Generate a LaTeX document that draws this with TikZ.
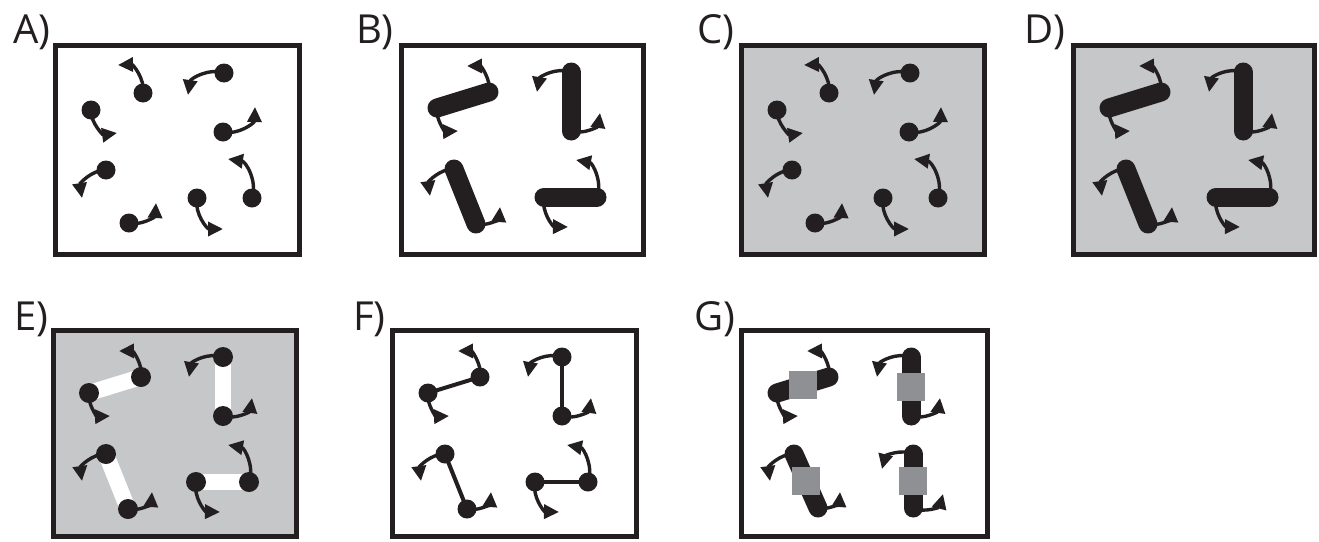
\documentclass[tikz,border=0pt]{standalone}
\usepackage{fontspec}
\setmainfont{Open Sans}
\usetikzlibrary{arrows.meta, calc}

\definecolor{ink}{RGB}{35,31,32}
\definecolor{panelgray}{RGB}{197,199,201}
\definecolor{padgray}{RGB}{143,144,147}

% dot / tip of its arrow (pixels from the panel's top-left corner)
\newcommand{\spinlist}{88/48/63/20, 169/28/133/50, 36/65/62/88, 168/87/200/62,
  51/125/27/153, 197/153/173/114, 74/178/101/158, 142/153/168/184}
% rotor ends p, q and the tips of their arrows
\newcommand{\rotorlist}{88/47/66/21/36/63/57/86, 170/27/136/47/170/86/199/68,
  53/124/29/151/75/179/99/162, 196/152/175/115/143/152/167/182}
\newcommand{\padlist}{88/47/66/21/36/63/57/86, 170/27/136/47/170/86/199/68,
  53/124/29/151/77/178/99/162, 172/124/141/139/172/178/202/164}

\begin{document}
\begin{tikzpicture}[x=1pt, y=1pt, >=Stealth,
    every node/.style={font=\fontsize{40}{40}\selectfont, text=ink, inner sep=0pt},
    frame/.style={draw=ink, line width=5pt},
    spin/.style={draw=ink, line width=3.4pt, -{Triangle[length=15pt,width=14pt]}},
    rod/.style={draw=ink, line width=19pt, line cap=round},
    link/.style={draw=ink, line width=4pt}]
  \useasboundingbox (0,0) rectangle (1319,-541);

  % A) free spins
  \node[anchor=base east] (labA) at (51,-43) {A)};
  \draw[frame] (55,-45) rectangle (299,-254);
  \begin{scope}[shift={(55,-45)}]
    \foreach \sx/\sy/\tx/\ty in \spinlist{
      \draw[spin] (\sx,-\sy) to[bend right=50] (\tx,-\ty);
      \fill[ink] (\sx,-\sy) circle (9.5);
    }
  \end{scope}

  % B) rods
  \node[anchor=base east] (labB) at (394,-43) {B)};
  \draw[frame] (401,-45) rectangle (643,-254);
  \begin{scope}[shift={(401,-45)}]
    \foreach \px/\py/\ax/\ay/\qx/\qy/\bx/\by in \rotorlist{
      \draw[spin] (\px,-\py) to[bend right=50] (\ax,-\ay);
      \draw[spin] (\qx,-\qy) to[bend right=50] (\bx,-\by);
      \draw[rod] (\px,-\py) -- (\qx,-\qy);
    }
  \end{scope}

  % C) free spins, grey
  \node[anchor=base east] (labC) at (735,-43) {C)};
  \draw[frame, fill=panelgray] (741,-45) rectangle (984,-254);
  \begin{scope}[shift={(741,-45)}]
    \foreach \sx/\sy/\tx/\ty in \spinlist{
      \draw[spin] (\sx,-\sy) to[bend right=50] (\tx,-\ty);
      \fill[ink] (\sx,-\sy) circle (9.5);
    }
  \end{scope}

  % D) rods, grey
  \node[anchor=base east] (labD) at (1066,-43) {D)};
  \draw[frame, fill=panelgray] (1073,-45) rectangle (1314,-254);
  \begin{scope}[shift={(1073,-45)}]
    \foreach \px/\py/\ax/\ay/\qx/\qy/\bx/\by in \rotorlist{
      \draw[spin] (\px,-\py) to[bend right=50] (\ax,-\ay);
      \draw[spin] (\qx,-\qy) to[bend right=50] (\bx,-\by);
      \draw[rod] (\px,-\py) -- (\qx,-\qy);
    }
  \end{scope}

  % E) pairs with white bridge
  \node[anchor=base east] (labE) at (49,-330) {E)};
  \draw[frame, fill=panelgray] (53,-330) rectangle (296,-536);
  \begin{scope}[shift={(53,-330)}]
    \foreach \px/\py/\ax/\ay/\qx/\qy/\bx/\by in \rotorlist{
      \draw[spin] (\px,-\py) to[bend right=50] (\ax,-\ay);
      \draw[spin] (\qx,-\qy) to[bend right=50] (\bx,-\by);
      \draw[white, line width=16pt] (\px,-\py) -- (\qx,-\qy);
      \fill[ink] (\px,-\py) circle (10) (\qx,-\qy) circle (10);
    }
  \end{scope}

  % F) dumbbells
  \node[anchor=base east] (labF) at (386,-330) {F)};
  \draw[frame] (392,-330) rectangle (636,-536);
  \begin{scope}[shift={(392,-330)}]
    \foreach \px/\py/\ax/\ay/\qx/\qy/\bx/\by in \rotorlist{
      \draw[spin] (\px,-\py) to[bend right=50] (\ax,-\ay);
      \draw[spin] (\qx,-\qy) to[bend right=50] (\bx,-\by);
      \draw[link] (\px,-\py) -- (\qx,-\qy);
      \fill[ink] (\px,-\py) circle (9.5) (\qx,-\qy) circle (9.5);
    }
  \end{scope}

  % G) rods with pads
  \node[anchor=base east] (labG) at (736,-330) {G)};
  \draw[frame] (741,-330) rectangle (987,-536);
  \begin{scope}[shift={(741,-330)}]
    \foreach \px/\py/\ax/\ay/\qx/\qy/\bx/\by in \padlist{
      \draw[spin] (\px,-\py) to[bend right=50] (\ax,-\ay);
      \draw[spin] (\qx,-\qy) to[bend right=50] (\bx,-\by);
      \draw[rod] (\px,-\py) -- (\qx,-\qy);
      \fill[padgray] ($(\px,-\py)!.5!(\qx,-\qy)$) ++(-14,-14) rectangle ++(28,28);
    }
  \end{scope}
\end{tikzpicture}
\end{document}
